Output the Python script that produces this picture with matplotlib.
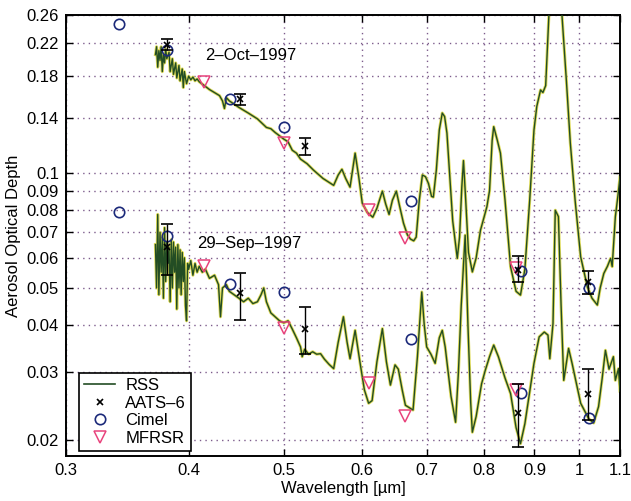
import matplotlib
matplotlib.use("Agg")
import matplotlib.pyplot as plt
from matplotlib.ticker import FixedLocator, FixedFormatter, NullLocator

plt.rcParams['font.family'] = ['Liberation Sans', 'DejaVu Sans']

# RSS spectra, 2-Oct-1997
rss_oct_wl = [0.370, 0.371, 0.372, 0.373, 0.374, 0.375, 0.376, 0.377, 0.378, 0.379,
              0.380, 0.382, 0.383, 0.385, 0.386, 0.388, 0.389, 0.391, 0.392, 0.394,
              0.395, 0.396, 0.398, 0.400, 0.402, 0.404, 0.406, 0.408, 0.410, 0.415,
              0.420, 0.425, 0.430, 0.433, 0.435, 0.437, 0.440, 0.445, 0.450, 0.460,
              0.470, 0.480, 0.485, 0.490, 0.500, 0.505, 0.510, 0.515, 0.520, 0.528,
              0.536, 0.548, 0.555, 0.562, 0.568, 0.573, 0.578, 0.584, 0.591, 0.596,
              0.601, 0.608, 0.616, 0.622, 0.630, 0.635, 0.640, 0.645, 0.651, 0.656,
              0.662, 0.668, 0.673, 0.678, 0.682, 0.687, 0.692, 0.697, 0.702, 0.707,
              0.710, 0.715, 0.720, 0.725, 0.729, 0.733, 0.738, 0.743, 0.751, 0.755,
              0.759, 0.762, 0.766, 0.771, 0.778, 0.785, 0.793, 0.800, 0.805, 0.810,
              0.815, 0.818, 0.825, 0.831, 0.840, 0.851, 0.862, 0.871, 0.880, 0.890,
              0.899, 0.905, 0.913, 0.918, 0.924, 0.931, 0.945, 0.960, 0.970, 0.979,
              0.990, 1.003, 1.019, 1.030, 1.043, 1.050, 1.059, 1.068, 1.076, 1.080,
              1.088, 1.095, 1.100]
rss_oct_aod = [0.205, 0.215, 0.190, 0.210, 0.198, 0.215, 0.185, 0.205, 0.195, 0.212,
               0.200, 0.208, 0.185, 0.200, 0.182, 0.195, 0.178, 0.192, 0.175, 0.188,
               0.168, 0.185, 0.172, 0.180, 0.176, 0.179, 0.175, 0.177, 0.174, 0.170,
               0.166, 0.163, 0.160, 0.155, 0.148, 0.158, 0.155, 0.152, 0.149, 0.144,
               0.139, 0.132, 0.131, 0.128, 0.123, 0.121, 0.115, 0.113, 0.109, 0.106,
               0.102, 0.097, 0.095, 0.093, 0.099, 0.1025, 0.097, 0.092, 0.113, 0.098,
               0.0835, 0.079, 0.0767, 0.081, 0.0898, 0.083, 0.078, 0.085, 0.0898, 0.082,
               0.074, 0.069, 0.0672, 0.0665, 0.068, 0.085, 0.099, 0.098, 0.094, 0.087,
               0.0866, 0.102, 0.130, 0.144, 0.141, 0.1276, 0.098, 0.075, 0.0598, 0.068,
               0.092, 0.108, 0.085, 0.062, 0.0551, 0.060, 0.0709, 0.077, 0.0817, 0.090,
               0.122, 0.1326, 0.122, 0.113, 0.085, 0.0568, 0.049, 0.0479, 0.056, 0.085,
               0.130, 0.150, 0.1656, 0.163, 0.170, 0.260, 0.450, 0.260, 0.175, 0.120,
               0.085, 0.0604, 0.0503, 0.047, 0.0451, 0.050, 0.0546, 0.057, 0.0598, 0.0569,
               0.0769, 0.088, 0.098]

# RSS spectra, 29-Sep-1997
rss_sep_wl = [0.370, 0.371, 0.372, 0.373, 0.374, 0.375, 0.376, 0.377, 0.378, 0.379,
              0.380, 0.381, 0.382, 0.383, 0.384, 0.385, 0.386, 0.387, 0.388, 0.389,
              0.390, 0.391, 0.392, 0.393, 0.394, 0.395, 0.396, 0.397, 0.398, 0.399,
              0.400, 0.402, 0.404, 0.406, 0.408, 0.410, 0.413, 0.416, 0.420, 0.425,
              0.429, 0.431, 0.433, 0.437, 0.440, 0.445, 0.450, 0.455, 0.460, 0.465,
              0.470, 0.474, 0.477, 0.480, 0.485, 0.490, 0.495, 0.500, 0.505, 0.510,
              0.515, 0.520, 0.522, 0.525, 0.530, 0.535, 0.540, 0.545, 0.550, 0.556,
              0.562, 0.568, 0.575, 0.580, 0.584, 0.591, 0.598, 0.604, 0.610, 0.615,
              0.622, 0.630, 0.636, 0.642, 0.649, 0.654, 0.660, 0.665, 0.677, 0.684,
              0.691, 0.695, 0.699, 0.706, 0.713, 0.720, 0.725, 0.730, 0.740, 0.748,
              0.753, 0.758, 0.765, 0.770, 0.775, 0.778, 0.785, 0.795, 0.802, 0.810,
              0.818, 0.827, 0.840, 0.851, 0.862, 0.871, 0.880, 0.899, 0.910, 0.921,
              0.929, 0.933, 0.940, 0.945, 0.952, 0.958, 0.964, 0.975, 0.983, 1.003,
              1.022, 1.034, 1.046, 1.055, 1.063, 1.072, 1.083, 1.088, 1.096, 1.100]
rss_sep_aod = [0.065, 0.050, 0.078, 0.048, 0.070, 0.055, 0.068, 0.047, 0.072, 0.052,
               0.066, 0.058, 0.064, 0.046, 0.067, 0.050, 0.066, 0.055, 0.064, 0.044,
               0.065, 0.050, 0.063, 0.048, 0.062, 0.052, 0.060, 0.045, 0.041, 0.058,
               0.056, 0.059, 0.054, 0.058, 0.055, 0.057, 0.055, 0.056, 0.053, 0.054,
               0.051, 0.042, 0.050, 0.051, 0.049, 0.048, 0.047, 0.046, 0.047, 0.0455,
               0.046, 0.048, 0.050, 0.046, 0.043, 0.042, 0.041, 0.0405, 0.041, 0.039,
               0.037, 0.035, 0.033, 0.0345, 0.0335, 0.034, 0.0335, 0.0336, 0.0325, 0.0315,
               0.0307, 0.036, 0.042, 0.036, 0.0326, 0.0387, 0.0317, 0.027, 0.0249, 0.0253,
               0.032, 0.0391, 0.032, 0.0278, 0.0314, 0.0306, 0.027, 0.0246, 0.0239, 0.033,
               0.0488, 0.040, 0.035, 0.0335, 0.0317, 0.037, 0.0387, 0.035, 0.026, 0.0222,
               0.030, 0.045, 0.0688, 0.040, 0.025, 0.0209, 0.023, 0.028, 0.0304, 0.033,
               0.0354, 0.033, 0.029, 0.0264, 0.0215, 0.0195, 0.022, 0.0317, 0.0372, 0.0383,
               0.0376, 0.0326, 0.0403, 0.080, 0.077, 0.045, 0.0286, 0.0347, 0.0317, 0.0249,
               0.0227, 0.0221, 0.0244, 0.029, 0.0343, 0.0306, 0.033, 0.0286, 0.0307, 0.0268]

# AATS-6 (with error bars)
aats_wl = [0.380, 0.451, 0.525, 0.865, 1.021]
aats_oct = [0.217, 0.1566, 0.118, 0.0559, 0.0517]
aats_oct_lo = [0.2107, 0.151, 0.112, 0.0517, 0.0482]
aats_oct_hi = [0.226, 0.1617, 0.124, 0.0606, 0.0554]
aats_sep = [0.0641, 0.0484, 0.0391, 0.0235, 0.0263]
aats_sep_lo = [0.054, 0.0411, 0.0335, 0.0191, 0.0225]
aats_sep_hi = [0.0735, 0.0546, 0.0445, 0.0279, 0.0307]

# Cimel
cimel_wl = [0.340, 0.380, 0.441, 0.500, 0.674, 0.873, 1.024]
cimel_oct = [0.246, 0.211, 0.157, 0.132, 0.0844, 0.0555, 0.050]
cimel_sep = [0.0791, 0.0685, 0.0511, 0.0487, 0.0367, 0.0265, 0.0228]

# MFRSR
mfrsr_wl = [0.415, 0.500, 0.610, 0.665, 0.862]
mfrsr_oct = [0.174, 0.120, 0.080, 0.0677, 0.0563]
mfrsr_sep = [0.057, 0.0393, 0.0281, 0.0230, 0.0270]

xticks = [0.3, 0.4, 0.5, 0.6, 0.7, 0.8, 0.9, 1.0, 1.1]
xtick_labels = ['0.3', '0.4', '0.5', '0.6', '0.7', '0.8', '0.9', '1', '1.1']
yticks = [0.02, 0.03, 0.04, 0.05, 0.06, 0.07, 0.08, 0.09, 0.1, 0.14, 0.18, 0.22, 0.26]
ytick_labels = ['0.02', '0.03', '0.04', '0.05', '0.06', '0.07', '0.08', '0.09',
                '0.1', '0.14', '0.18', '0.22', '0.26']

line_col = '#234d24'
halo_col = '#e0dc5a'
cimel_col = '#1c2a7a'
mfrsr_col = '#e8437c'

fig = plt.figure(figsize=(6.31, 5.01), dpi=100)
ax = fig.add_axes([0.1046, 0.0898, 0.878, 0.8796])
ax.set_xscale('log')
ax.set_yscale('log')

# spectra: thin yellowish halo under the dark green line (scanned look)
for wl, aod in [(rss_oct_wl, rss_oct_aod), (rss_sep_wl, rss_sep_aod)]:
    ax.plot(wl, aod, color=halo_col, lw=2.2, zorder=2)
    ax.plot(wl, aod, color=line_col, lw=1.0, zorder=3)

for vals, lo, hi in [(aats_oct, aats_oct_lo, aats_oct_hi), (aats_sep, aats_sep_lo, aats_sep_hi)]:
    err = [[v - l for v, l in zip(vals, lo)], [h - v for v, h in zip(vals, hi)]]
    ax.errorbar(aats_wl, vals, yerr=err, fmt='x', color='black', ms=5, mew=1.2,
                elinewidth=1.0, capsize=4, capthick=1.0, zorder=5)

ax.plot(cimel_wl, cimel_oct, 'o', mfc='none', mec=cimel_col, ms=7.5, mew=1.2, zorder=4)
ax.plot(cimel_wl, cimel_sep, 'o', mfc='none', mec=cimel_col, ms=7.5, mew=1.2, zorder=4)
ax.plot(mfrsr_wl, mfrsr_oct, 'v', mfc='none', mec=mfrsr_col, ms=8, mew=1.1, zorder=4)
ax.plot(mfrsr_wl, mfrsr_sep, 'v', mfc='none', mec=mfrsr_col, ms=8, mew=1.1, zorder=4)

ax.set_xlim(0.3, 1.1)
ax.set_ylim(0.0181, 0.26)

ax.xaxis.set_major_locator(FixedLocator(xticks))
ax.xaxis.set_major_formatter(FixedFormatter(xtick_labels))
ax.xaxis.set_minor_locator(NullLocator())
ax.yaxis.set_major_locator(FixedLocator(yticks))
ax.yaxis.set_major_formatter(FixedFormatter(ytick_labels))
ax.yaxis.set_minor_locator(NullLocator())
ax.tick_params(direction='in', top=True, right=True, length=5, width=1.0,
               labelsize=12, pad=5)
ax.grid(True, linestyle=(0, (1, 3)), color='#7d5c8c', linewidth=1.0)
for s in ax.spines.values():
    s.set_linewidth(1.4)

ax.text(0.416, 0.204, '2\u2013Oct\u20131997', fontsize=12, va='center', ha='left')
ax.text(0.408, 0.0654, '29\u2013Sep\u20131997', fontsize=12, va='center', ha='left')

ax.set_xlabel('Wavelength [\u00b5m]', fontsize=12, labelpad=2)
ax.set_ylabel('Aerosol Optical Depth', fontsize=12, labelpad=4)

# legend proxies
h_rss, = ax.plot([], [], color=line_col, lw=1.2)
h_aats, = ax.plot([], [], 'x', color='black', ms=5, mew=1.2)
h_cim, = ax.plot([], [], 'o', mfc='none', mec=cimel_col, ms=7.5, mew=1.2)
h_mfr, = ax.plot([], [], 'v', mfc='none', mec=mfrsr_col, ms=8, mew=1.1)
leg = ax.legend([h_rss, h_aats, h_cim, h_mfr], ['RSS', 'AATS\u20136', 'Cimel', 'MFRSR'],
                loc='lower left', bbox_to_anchor=(0.023, 0.012), borderaxespad=0,
                fontsize=12, fancybox=False, framealpha=1, edgecolor='black',
                handlelength=1.9, handletextpad=0.6, labelspacing=0.15,
                borderpad=0.3)
leg.get_frame().set_linewidth(1.2)
leg.set_zorder(10)

fig.savefig('out.png', dpi=100)
